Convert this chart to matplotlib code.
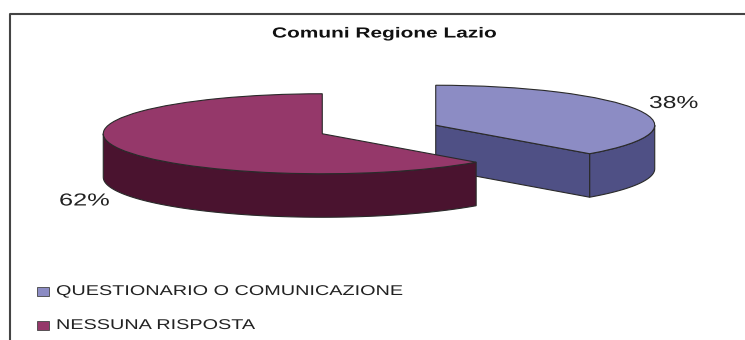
import matplotlib
matplotlib.use("Agg")
import matplotlib.pyplot as plt
import matplotlib.patheffects as pe
import numpy as np
from matplotlib.patches import Polygon, Rectangle
from matplotlib.transforms import Affine2D

plt.rcParams["font.family"] = ["Liberation Sans", "DejaVu Sans"]

title = "Comuni Regione Lazio"
labels = ["QUESTIONARIO O COMUNICAZIONE", "NESSUNA RISPOSTA"]
values = [37.6, 62.4]
top_colors = ["#8C8CC4", "#95386A"]
side_colors = ["#4F5085", "#4A132F"]
edge = "#2a2a2a"

W, H = 745, 340
RX, RY = 219.0, 40.0  # pixels per pie unit
DEPTH = 43.5 / RY


def px(x, y):
    # figure pixel (y down) to axes fraction
    return x / W, 1 - y / H


class Widen(pe.AbstractPathEffect):
    # the source picture was stretched sideways, text included
    def __init__(self, x0, sx):
        super().__init__()
        self.x0, self.sx = x0, sx

    def draw_path(self, renderer, gc, tpath, affine, rgbFace=None):
        t = affine + Affine2D().translate(-self.x0, 0).scale(self.sx, 1).translate(self.x0, 0)
        renderer.draw_path(gc, tpath, t, rgbFace)


def wide_text(x, y, s, sx, **kw):
    # anchor left edge so the widening grows to the right
    fig.text(*px(x, y), s, ha="left", va="center", path_effects=[Widen(x, sx)], **kw)


fig = plt.figure(figsize=(W / 100, H / 100), dpi=100)
ax = fig.add_axes([0, 0, 1, 1])

wedges, _ = ax.pie(values, startangle=90, counterclock=False, explode=[0.28, 0.28],
                   colors=top_colors, wedgeprops={"edgecolor": edge, "linewidth": 0.8})

# squash the round pie into the tilted ellipse
cx, cy = 379, 129.5
ax.set_aspect("auto")
ax.set_xlim(-cx / RX, (W - cx) / RX)
ax.set_ylim(-(H - cy) / RY, cy / RY)
ax.axis("off")


def rim(w, a1, a2):
    t = np.radians(np.linspace(a1, a2, 80))
    return w.center[0] + w.r * np.cos(t), w.center[1] + w.r * np.sin(t)


for i, w in enumerate(wedges):
    w.set_zorder(3 + 2 * i)
    # only the front half of the rim shows a wall
    a1, a2 = w.theta1 % 360, w.theta2 % 360
    if a2 < a1:
        a2 += 360
    lo, hi = max(a1, 180), min(a2, 360)
    x, y = rim(w, lo, hi)
    xs = np.r_[x, x[::-1]]
    ys = np.r_[y, y[::-1] - DEPTH]
    ax.add_patch(Polygon(np.c_[xs, ys], fc=side_colors[i], ec=edge, lw=0.8, zorder=2 + 2 * i))
    # cut face turned towards the viewer
    if i == 0:
        ex, ey = rim(w, a1, a1)
        face = [(w.center[0], w.center[1]), (ex[0], ey[0]), (ex[0], ey[0] - DEPTH),
                (w.center[0], w.center[1] - DEPTH)]
        ax.add_patch(Polygon(face, fc=side_colors[i], ec=edge, lw=0.8, zorder=2 + 2 * i))

# outer frame, runs off the image on the right and bottom
fig.add_artist(plt.Line2D([9.5 / W, 9.5 / W, 1], [0, 1 - 13.5 / H, 1 - 13.5 / H],
                          color="#444444", lw=1.5))

wide_text(272, 33.5, title, 1.43, fontsize=10.5, fontweight="bold", color="#111111")
wide_text(649, 103.5, f"{round(values[0])}%", 1.42, fontsize=12.5, color="#222222")
wide_text(59, 201, f"{round(values[1])}%", 1.46, fontsize=12.5, color="#222222")

for lab, col, y in zip(labels, top_colors, [291, 325]):
    fig.add_artist(Rectangle((37 / W, 1 - (y + 4.5) / H), 12 / W, 9 / H, transform=fig.transFigure,
                             fc=col, ec="#444444", lw=0.6))
    wide_text(56, y, lab, 1.40, fontsize=10.2, color="#222222")

fig.savefig("out.png", dpi=100)
